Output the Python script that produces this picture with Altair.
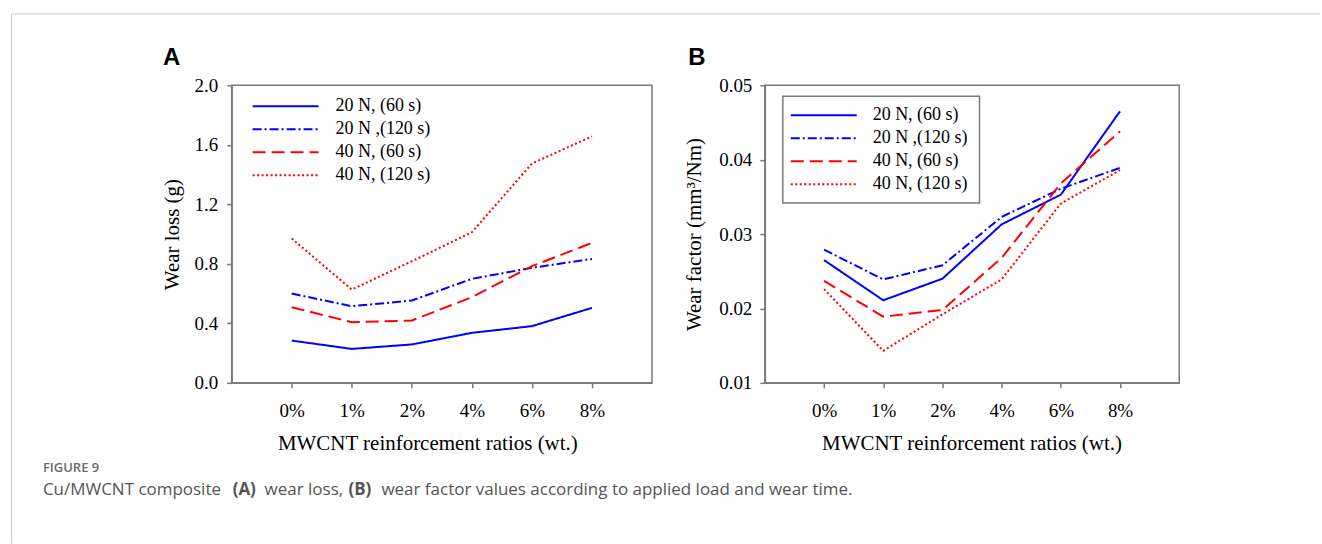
import altair as alt
import pandas as pd

# ---------------- data ----------------
ratios = ["0%", "1%", "2%", "4%", "6%", "8%"]
series = ["20 N, (60 s)", "20 N ,(120 s)", "40 N, (60 s)", "40 N, (120 s)"]

wear_loss_20_60 = [0.284, 0.228, 0.258, 0.336, 0.381, 0.504]
wear_loss_20_120 = [0.600, 0.515, 0.553, 0.699, 0.773, 0.833]
wear_loss_40_60 = [0.508, 0.408, 0.419, 0.576, 0.784, 0.941]
wear_loss_40_120 = [0.970, 0.627, 0.817, 1.012, 1.474, 1.657]

wear_factor_20_60 = [0.0265, 0.0211, 0.0240, 0.0313, 0.0353, 0.0465]
wear_factor_20_120 = [0.0279, 0.0239, 0.0258, 0.0323, 0.0361, 0.0389]
wear_factor_40_60 = [0.0237, 0.0189, 0.0198, 0.0268, 0.0368, 0.0438]
wear_factor_40_120 = [0.0226, 0.0143, 0.0192, 0.0239, 0.0341, 0.0386]

loss_ticks = [0.0, 0.4, 0.8, 1.2, 1.6, 2.0]
factor_ticks = [0.01, 0.02, 0.03, 0.04, 0.05]

x_title = "MWCNT reinforcement ratios (wt.)"
caption_label = "FIGURE 9"


def long_df(columns):
    rows = []
    for name, vals in zip(series, columns):
        for r, v in zip(ratios, vals):
            rows.append({"ratio": r, "series": name, "value": v})
    return pd.DataFrame(rows)


loss_df = long_df([wear_loss_20_60, wear_loss_20_120, wear_loss_40_60, wear_loss_40_120])
factor_df = long_df([wear_factor_20_60, wear_factor_20_120, wear_factor_40_60, wear_factor_40_120])
leg_df = pd.DataFrame({"series": series})
dummy_df = pd.DataFrame({"d": [0]})

color_scale = alt.Scale(domain=series, range=["#0000ff", "#0000ff", "#ff0000", "#ff0000"])
dash_scale = alt.Scale(domain=series, range=[[1, 0], [9, 3, 2, 3], [13, 6], [2, 2.5]])

SERIF = "Liberation Serif"
SANS = "Open Sans"
H = 298


def panel(df, width, ydomain, yticks, fmt, ytitle, ytitle_x, ylabel_pad, xtitle_x,
          letter, letter_x, leg_x0, leg_x1, leg_tx, leg_rows, box=None, extras=()):
    lines = alt.Chart(df).mark_line(strokeWidth=2).encode(
        x=alt.X("ratio:N", sort=ratios,
                scale=alt.Scale(type="point", domain=ratios, padding=1),
                axis=alt.Axis(title=x_title, labelAngle=0, labelBaseline="middle",
                              labelPadding=23, titleX=xtitle_x, titleY=61,
                              titleBaseline="middle", titleAlign="center")),
        y=alt.Y("value:Q", scale=alt.Scale(domain=ydomain, nice=False, zero=False),
                axis=alt.Axis(values=yticks, format=fmt, title=ytitle,
                              labelPadding=ylabel_pad, titleX=ytitle_x, titleY=H / 2,
                              titleAngle=270, titleBaseline="middle", titleAlign="center")),
        color=alt.Color("series:N", scale=color_scale, legend=None),
        strokeDash=alt.StrokeDash("series:N", scale=dash_scale, legend=None),
    )
    layers = []
    if box is not None:
        layers.append(alt.Chart(dummy_df).mark_rect(fill="white", stroke="#7a7a7a", strokeWidth=1.5).encode(
            x=alt.value(box[0]), x2=alt.value(box[1]), y=alt.value(box[2]), y2=alt.value(box[3])))
    leg_y = alt.Y("series:N", scale=alt.Scale(type="point", domain=series, range=leg_rows, padding=0), axis=None)
    leg_rule = alt.Chart(leg_df).mark_rule(strokeWidth=2).encode(
        x=alt.value(leg_x0), x2=alt.value(leg_x1), y=leg_y,
        color=alt.Color("series:N", scale=color_scale, legend=None),
        strokeDash=alt.StrokeDash("series:N", scale=dash_scale, legend=None),
    )
    leg_text = alt.Chart(leg_df).mark_text(font=SERIF, fontSize=18, align="left", baseline="middle",
                                           color="black").encode(
        x=alt.value(leg_tx), y=leg_y, text="series:N")
    let = alt.Chart(dummy_df).mark_text(font="Liberation Sans", fontSize=24, fontWeight="bold",
                                        align="center", baseline="middle", color="black").encode(
        x=alt.value(letter_x), y=alt.value(-27), text=alt.value(letter))
    ch = alt.layer(lines, *layers, leg_rule, leg_text, let, *extras).resolve_scale(y="independent")
    return ch.properties(width=width, height=H)


# decorations for the figure frame and caption (placed relative to panel A)
frame_top = alt.Chart(dummy_df).mark_rule(color="#c8c8c8", strokeWidth=1).encode(
    x=alt.value(-220.5), x2=alt.value(1090), y=alt.value(-71.5))
frame_left = alt.Chart(dummy_df).mark_rule(color="#c8c8c8", strokeWidth=1).encode(
    x=alt.value(-220.5), y=alt.value(-71.5), y2=alt.value(459))
fig_label = alt.Chart(dummy_df).mark_text(font=SANS, fontSize=13, fontWeight=600, color="#6a6a6a",
                                          align="left", baseline="middle").encode(
    x=alt.value(-189), y=alt.value(383), text=alt.value(caption_label))

caption_parts = [
    ("Cu/MWCNT composite", -189, "normal"),
    ("(A)", 1, "bold"),
    ("wear loss,", 33, "normal"),
    ("(B)", 117, "bold"),
    ("wear factor values according to applied load and wear time.", 150, "normal"),
]
caption_layers = []
for txt, cx, fw in caption_parts:
    caption_layers.append(
        alt.Chart(dummy_df).mark_text(font=SANS, fontSize=17, fontWeight=fw, color="#555555",
                                      align="left", baseline="middle").encode(
            x=alt.value(cx), y=alt.value(405), text=alt.value(txt)))

panel_a = panel(loss_df, 421, [0, 2], loss_ticks, ".1f", "Wear loss (g)", -59, 9, 196,
                "A", -60, 21, 87, 104, [21, 90],
                extras=(frame_top, frame_left, fig_label, *caption_layers))
panel_b = panel(factor_df, 415, [0.01, 0.05], factor_ticks, ".2f", "Wear factor (mm³/Nm)", -70, 8, 207,
                "B", -68, 26, 92, 108, [30, 99], box=(18, 215, 11, 118))

chart = alt.hconcat(panel_a, panel_b, spacing=113, bounds="flush").properties(
    padding={"left": 10, "top": 12, "right": 0, "bottom": 0},
    background="white",
).configure_view(
    stroke="#7a7a7a", strokeWidth=1.5
).configure_axis(
    domainColor="#7a7a7a", domainWidth=1.5, tickColor="#7a7a7a", tickWidth=1.5, tickSize=5,
    grid=False, labelFont=SERIF, labelFontSize=19, labelColor="black",
    titleFont=SERIF, titleFontSize=21, titleFontWeight="normal", titleColor="black",
)

chart.save("out.html", embed_options={"renderer": "svg", "actions": False})
